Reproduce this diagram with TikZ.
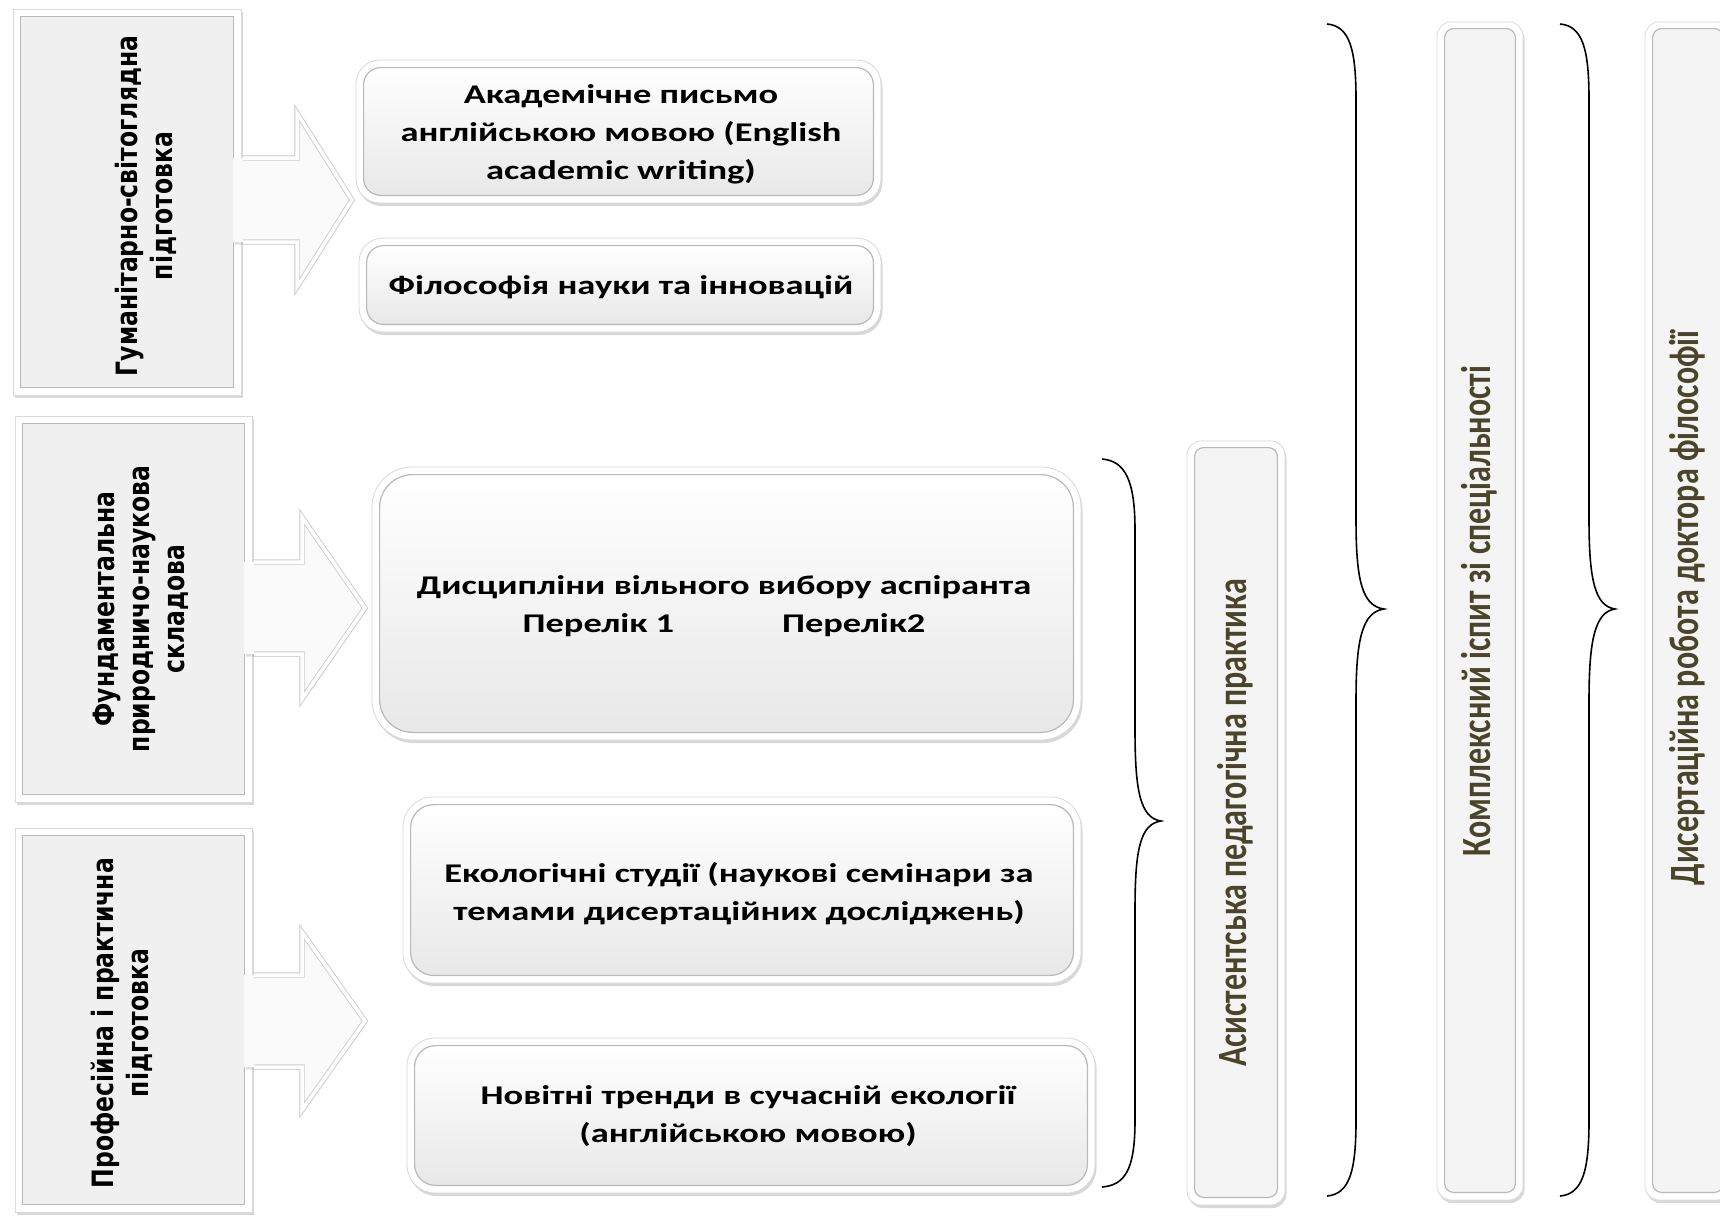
\documentclass[tikz,border=0pt]{standalone}
\usepackage{fontspec}
\usepackage{graphicx}
\newfontfamily\calfont{Carlito}
\newfontfamily\verdfont{DejaVu Sans}
\usetikzlibrary{shadows}
\definecolor{olivetext}{RGB}{74,69,42}
\definecolor{boxgray}{RGB}{240,240,240}
\definecolor{boxgraylow}{RGB}{232,232,232}
\definecolor{edgegray}{RGB}{185,185,185}
\newcommand{\rtext}[1]{\scalebox{1.35}[1]{\begin{tabular}{@{}c@{}}#1\end{tabular}}}
\newcommand{\vtext}[2]{\scalebox{1}[#1]{\begin{tabular}{@{}c@{}}#2\end{tabular}}}
\begin{document}
\begin{tikzpicture}[x=1pt,y=-1pt,
  sqframe/.style={draw=gray!30, line width=0.8pt, fill=white, inner sep=0pt,
    drop shadow={opacity=0.3, shadow xshift=1.5pt, shadow yshift=-2.5pt}},
  sqinner/.style={fill=boxgray, draw=edgegray, line width=1.2pt},
  rframe/.style={draw=gray!30, line width=0.8pt, fill=white, inner sep=0pt, rounded corners=24pt,
    drop shadow={opacity=0.3, shadow xshift=1.5pt, shadow yshift=-3pt}},
  rinner/.style={top color=white, bottom color=boxgraylow, draw=edgegray, line width=1.2pt, rounded corners=17pt},
  vframe/.style={draw=gray!30, line width=0.8pt, fill=white, inner sep=0pt, rounded corners=14pt,
    drop shadow={opacity=0.3, shadow xshift=1.5pt, shadow yshift=-3pt}},
  vinner/.style={fill=boxgray!70!white, draw=edgegray, line width=1.2pt, rounded corners=9pt},
  lefttext/.style={rotate=90, font={\verdfont\bfseries\fontsize{23.5}{28}\selectfont}, inner sep=0pt},
  righttext/.style={font={\calfont\bfseries\fontsize{27}{38}\selectfont}, inner sep=0pt},
  vbartext/.style={rotate=90, text=olivetext, font={\calfont\bfseries\fontsize{32}{38}\selectfont}, inner sep=0pt},
  arrowfill/.style={fill=gray!4, drop shadow={opacity=0.25, shadow xshift=1.5pt, shadow yshift=-2.5pt}},
  arrowedge/.style={draw=gray!40, line width=0.9pt, double=white, double distance=3.5pt, line join=miter},
  bracestyle/.style={draw=black, line width=1.6pt}
]
\clip (0,0) rectangle (1720,1216);
\fill[white] (0,0) rectangle (1720,1216);

% left boxes
\node[sqframe, minimum width=228pt, minimum height=386pt] (L1) at (127,202) {};
\draw[sqinner] ([shift={(8,8)}]L1.north west) rectangle ([shift={(-8,-8)}]L1.south east);
\node[sqframe, minimum width=237pt, minimum height=386pt] (L2) at (133.5,609) {};
\draw[sqinner] ([shift={(8,8)}]L2.north west) rectangle ([shift={(-8,-8)}]L2.south east);
\node[sqframe, minimum width=237pt, minimum height=384pt] (L3) at (133.5,1020) {};
\draw[sqinner] ([shift={(8,8)}]L3.north west) rectangle ([shift={(-8,-8)}]L3.south east);

% right boxes
\node[rframe, minimum width=525pt, minimum height=143pt] (R1) at (618.5,131.5) {};
\shade[rinner] ([shift={(8,8)}]R1.north west) rectangle ([shift={(-8,-8)}]R1.south east);
\node[rframe, minimum width=522pt, minimum height=94pt] (R2) at (620,285) {};
\shade[rinner] ([shift={(8,8)}]R2.north west) rectangle ([shift={(-8,-8)}]R2.south east);
\node[rframe, minimum width=709pt, minimum height=273pt, rounded corners=40pt] (R3) at (726.5,603.5) {};
\shade[rinner, rounded corners=33pt] ([shift={(8,8)}]R3.north west) rectangle ([shift={(-8,-8)}]R3.south east);
\node[rframe, minimum width=678pt, minimum height=186pt, rounded corners=30pt] (R4) at (742,890) {};
\shade[rinner, rounded corners=23pt] ([shift={(8,8)}]R4.north west) rectangle ([shift={(-8,-8)}]R4.south east);
\node[rframe, minimum width=688pt, minimum height=155pt, rounded corners=28pt] (R5) at (751,1115.5) {};
\shade[rinner, rounded corners=21pt] ([shift={(8,8)}]R5.north west) rectangle ([shift={(-8,-8)}]R5.south east);

% arrows
\fill[arrowfill] (233,158) -- (297,158) -- (297,113) -- (352,200) -- (297,287) -- (297,242) -- (233,242) -- cycle;
\draw[arrowedge] (243,158) -- (297,158) -- (297,113) -- (352,200) -- (297,287) -- (297,242) -- (243,242);
\fill[arrowfill] (244,562) -- (302,562) -- (302,517) -- (365,608) -- (302,699) -- (302,654) -- (244,654) -- cycle;
\draw[arrowedge] (254,562) -- (302,562) -- (302,517) -- (365,608) -- (302,699) -- (302,654) -- (254,654);
\fill[arrowfill] (244,975) -- (302,975) -- (302,932) -- (365,1021) -- (302,1110) -- (302,1067) -- (244,1067) -- cycle;
\draw[arrowedge] (254,975) -- (302,975) -- (302,932) -- (365,1021) -- (302,1110) -- (302,1067) -- (254,1067);

% vertical bars
\node[vframe, minimum width=98pt, minimum height=764pt] (V1) at (1236,823) {};
\draw[vinner] ([shift={(8,7)}]V1.north west) rectangle ([shift={(-8,-8)}]V1.south east);
\node[vframe, minimum width=86pt, minimum height=1178pt] (V2) at (1480,611) {};
\draw[vinner] ([shift={(8,7)}]V2.north west) rectangle ([shift={(-8,-8)}]V2.south east);
\node[vframe, minimum width=86pt, minimum height=1178pt] (V3) at (1688,611) {};
\draw[vinner] ([shift={(8,7)}]V3.north west) rectangle ([shift={(-8,-8)}]V3.south east);

% braces
\draw[bracestyle] (1102,459) .. controls (1125,461) and (1135,480) .. (1135,530) -- (1135,730)
  .. controls (1135,790) and (1140,818) .. (1161,821) .. controls (1140,824) and (1135,850) .. (1135,910)
  -- (1135,1120) .. controls (1135,1170) and (1125,1185) .. (1102,1187);
\draw[bracestyle] (1327,24) .. controls (1350,26) and (1356,50) .. (1356,100) -- (1356,520)
  .. controls (1356,580) and (1362,606) .. (1384,609) .. controls (1362,612) and (1356,640) .. (1356,700)
  -- (1356,1120) .. controls (1356,1170) and (1350,1194) .. (1327,1196);
\draw[bracestyle] (1560,24) .. controls (1583,26) and (1589,50) .. (1589,100) -- (1589,520)
  .. controls (1589,580) and (1595,606) .. (1615,609) .. controls (1595,612) and (1589,640) .. (1589,700)
  -- (1589,1120) .. controls (1589,1170) and (1583,1194) .. (1560,1196);

% texts
\node[lefttext] (L1t) at (148,206) {\vtext{1.25}{Гуманітарно-світоглядна\\підготовка}};
\node[lefttext] (L2t) at (142,609) {\vtext{1.25}{Фундаментальна\\природничо-наукова\\складова}};
\node[lefttext] (L3t) at (124,1023) {\vtext{1.25}{Професійна і практична\\підготовка}};

\node[righttext] (R1t) at (621,134) {\rtext{Академічне письмо\\англійською мовою (English\\academic writing)}};
\node[righttext] (R2t) at (621,287) {\rtext{Філософія науки та інновацій}};
\node[righttext] (R3t) at (724,606) {\rtext{Дисципліни вільного вибору аспіранта\\Перелік 1\hspace*{80pt}Перелік2}};
\node[righttext] (R4t) at (739,894) {\rtext{Екологічні студії (наукові семінари за\\темами дисертаційних досліджень)}};
\node[righttext] (R5t) at (748,1116) {\rtext{Новітні тренди в сучасній екології\\(англійською мовою)}};

\node[vbartext] (V1t) at (1237,823) {\vtext{1.3}{Асистентська педагогічна практика}};
\node[vbartext] (V2t) at (1481,611) {\vtext{1.3}{Комплексний іспит зі спеціальності}};
\node[vbartext] (V3t) at (1689,608) {\vtext{1.3}{Дисертаційна робота доктора філософії}};
\end{tikzpicture}
\end{document}
